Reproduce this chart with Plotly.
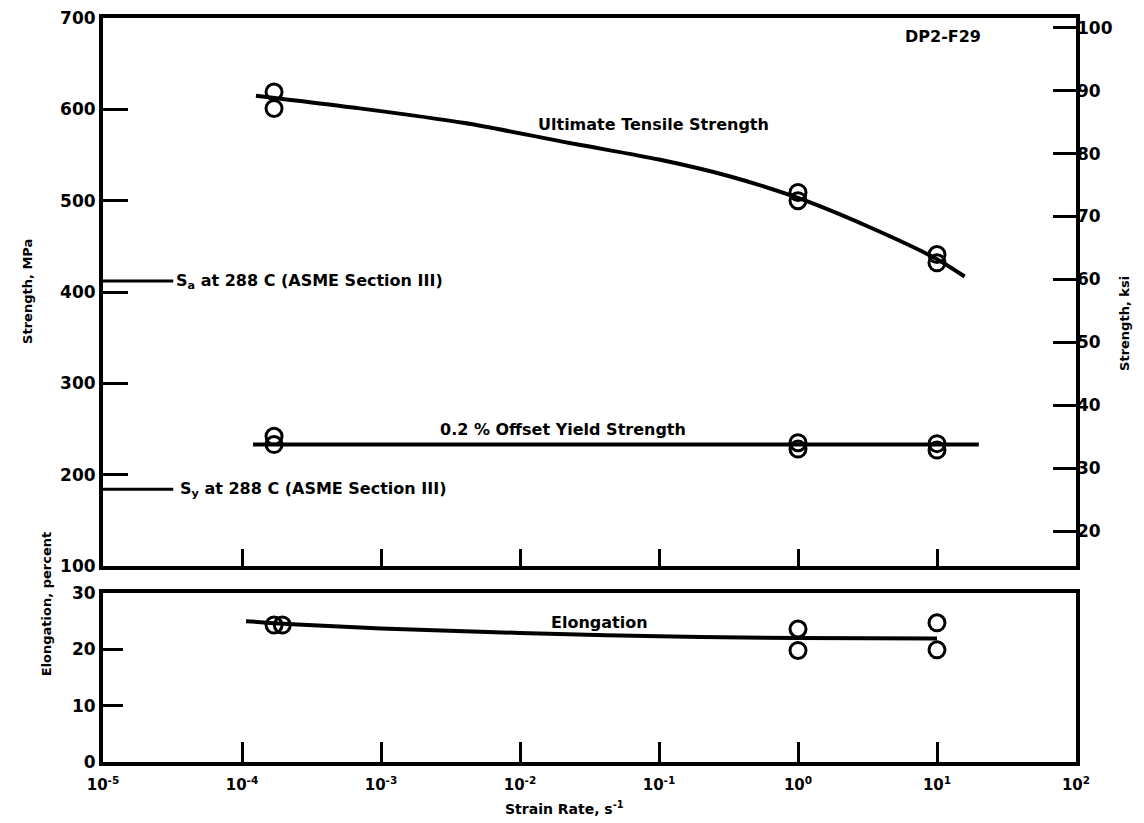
import plotly.graph_objects as go

# ---------------- data ----------------
# test points (strain rate s^-1)
uts_x = [1.7e-4, 1.7e-4, 1.0, 1.0, 10.0, 10.0]
uts_y = [619, 601, 509, 500, 441, 432]          # MPa
ys_x = [1.7e-4, 1.7e-4, 1.0, 1.0, 10.0, 10.0]
ys_y = [242, 233, 235, 228, 234, 227]           # MPa
el_x = [1.7e-4, 1.95e-4, 1.0, 1.0, 10.0, 10.0]
el_y = [24.3, 24.3, 23.6, 19.8, 24.7, 19.9]     # percent

# faired curves
uts_curve_x = [1.26e-4, 6.3e-4, 4.0e-3, 2.5e-2, 0.1, 0.316, 1.0, 3.16, 10.0, 15.8]
uts_curve_y = [615, 602, 585, 562, 545, 527, 503, 472, 436, 417]
ys_curve_x = [1.2e-4, 20.0]
ys_curve_y = [233, 233]
el_curve_x = [1.07e-4, 2.5e-4, 1.0e-3, 1.0e-2, 1.0e-1, 1.0, 10.0]
el_curve_y = [25.0, 24.4, 23.7, 22.9, 22.3, 22.0, 21.9]

# code allowables
sa_mpa = 412
sy_mpa = 184
code_x = [1.0e-5, 3.2e-5]

# axes ticks
mpa_ticks = [100, 200, 300, 400, 500, 600, 700]
ksi_ticks = [20, 30, 40, 50, 60, 70, 80, 90, 100]
el_ticks = [0, 10, 20, 30]
x_ticks = [1e-5, 1e-4, 1e-3, 1e-2, 1e-1, 1e0, 1e1, 1e2]
x_ticktext = ["10<sup>-5</sup>", "10<sup>-4</sup>", "10<sup>-3</sup>", "10<sup>-2</sup>",
              "10<sup>-1</sup>", "10<sup>0</sup>", "10<sup>1</sup>", "10<sup>2</sup>"]
MPA_PER_KSI = 6.895

FONT = "DejaVu Sans"
BLK = "black"

fig = go.Figure()

mk = dict(symbol="circle-open", size=16, color=BLK, line=dict(width=3, color=BLK))

fig.add_trace(go.Scatter(x=uts_curve_x, y=uts_curve_y, mode="lines",
                         line=dict(color=BLK, width=4, shape="spline", smoothing=0.8),
                         xaxis="x", yaxis="y", showlegend=False, hoverinfo="skip"))
fig.add_trace(go.Scatter(x=uts_x, y=uts_y, mode="markers", marker=mk,
                         xaxis="x", yaxis="y", showlegend=False))
fig.add_trace(go.Scatter(x=ys_curve_x, y=ys_curve_y, mode="lines",
                         line=dict(color=BLK, width=4),
                         xaxis="x", yaxis="y", showlegend=False, hoverinfo="skip"))
fig.add_trace(go.Scatter(x=ys_x, y=ys_y, mode="markers", marker=mk,
                         xaxis="x", yaxis="y", showlegend=False))
fig.add_trace(go.Scatter(x=code_x, y=[sa_mpa, sa_mpa], mode="lines",
                         line=dict(color=BLK, width=3),
                         xaxis="x", yaxis="y", showlegend=False, hoverinfo="skip"))
fig.add_trace(go.Scatter(x=code_x, y=[sy_mpa, sy_mpa], mode="lines",
                         line=dict(color=BLK, width=3),
                         xaxis="x", yaxis="y", showlegend=False, hoverinfo="skip"))
# invisible trace on ksi axis so it renders
fig.add_trace(go.Scatter(x=uts_x, y=[v / MPA_PER_KSI for v in uts_y], mode="markers",
                         marker=dict(opacity=0), xaxis="x", yaxis="y3",
                         showlegend=False, hoverinfo="skip"))

fig.add_trace(go.Scatter(x=el_curve_x, y=el_curve_y, mode="lines",
                         line=dict(color=BLK, width=4, shape="spline"),
                         xaxis="x2", yaxis="y2", showlegend=False, hoverinfo="skip"))
fig.add_trace(go.Scatter(x=el_x, y=el_y, mode="markers", marker=mk,
                         xaxis="x2", yaxis="y2", showlegend=False))

tickfont = dict(family=FONT, size=17, color=BLK, weight="bold")
axline = dict(showline=True, linecolor=BLK, linewidth=4, mirror=True, automargin=False,
              showgrid=False, zeroline=False, tickcolor=BLK, tickwidth=3)

top_dom = [0.2634, 1.0]
bot_dom = [0.0, 0.2272]

# page body adds an 8px offset; figure sized to compensate
fig.update_layout(
    width=1136, height=815,
    margin=dict(l=95, r=68, t=10, b=61, autoexpand=False),
    paper_bgcolor="white", plot_bgcolor="white",
    xaxis=dict(type="log", range=[-5, 2], domain=[0, 1], anchor="y",
               tickvals=x_ticks[1:-1], ticks="inside", ticklen=17,
               showticklabels=False, **axline),
    yaxis=dict(range=[100, 700], domain=top_dom, anchor="x",
               tickvals=mpa_ticks, ticks="inside", ticklen=25,
               ticklabeloverflow="allow", tickfont=tickfont, **axline),
    yaxis3=dict(range=[100 / MPA_PER_KSI, 700 / MPA_PER_KSI], overlaying="y",
                side="right", anchor="x", tickvals=ksi_ticks, ticks="inside",
                ticklen=23, tickcolor=BLK, tickwidth=3, showgrid=False, automargin=False,
                zeroline=False, showline=False, tickfont=tickfont,
                ticklabeloverflow="allow"),
    xaxis2=dict(type="log", range=[-5, 2], domain=[0, 1], anchor="y2",
                tickvals=x_ticks, ticktext=x_ticktext, ticks="inside", ticklen=20,
                ticklabelstandoff=6, ticklabeloverflow="allow",
                tickfont=dict(family=FONT, size=15, color=BLK, weight="bold"), **axline),
    yaxis2=dict(range=[0, 30], domain=bot_dom, anchor="x2",
                tickvals=el_ticks, ticks="inside", ticklen=20,
                ticklabeloverflow="allow", tickfont=tickfont, **axline),
)

lab = dict(family=FONT, size=16, color=BLK, weight="bold")
ttl = dict(family=FONT, size=13, color=BLK, weight="bold")
ann = [
    dict(x=-1.04, y=583, xref="x", yref="y", text="Ultimate Tensile Strength",
         showarrow=False, font=lab),
    dict(x=-1.69, y=250, xref="x", yref="y", text="0.2 % Offset Yield Strength",
         showarrow=False, font=lab),
    dict(x=1.04, y=680, xref="x", yref="y", text="DP2-F29",
         showarrow=False, font=lab),
    dict(x=-4.49, y=sa_mpa, xref="x", yref="y", xanchor="left",
         text="S<sub>a</sub> at 288 C (ASME Section III)", showarrow=False, font=lab),
    dict(x=-4.46, y=sy_mpa, xref="x", yref="y", xanchor="left",
         text="S<sub>y</sub> at 288 C (ASME Section III)", showarrow=False, font=lab),
    dict(x=-1.43, y=24.8, xref="x2", yref="y2", text="Elongation",
         showarrow=False, font=lab),
    dict(x=-0.088, y=0.633, xref="paper", yref="paper", text="Strength, MPa",
         textangle=-90, showarrow=False, font=ttl),
    dict(x=1.059, y=0.590, xref="paper", yref="paper", text="Strength, ksi",
         textangle=-90, showarrow=False, font=ttl),
    dict(x=-0.067, y=0.113, xref="paper", yref="paper", text="Elongation, percent",
         textangle=-90, showarrow=False, font=ttl),
    dict(x=0.474, y=-0.062, xref="paper", yref="paper", text="Strain Rate, s<sup>-1</sup>",
         showarrow=False, yanchor="middle", font=dict(family=FONT, size=14, color=BLK, weight="bold")),
]
fig.update_layout(annotations=ann)

fig.write_html("out.html")
